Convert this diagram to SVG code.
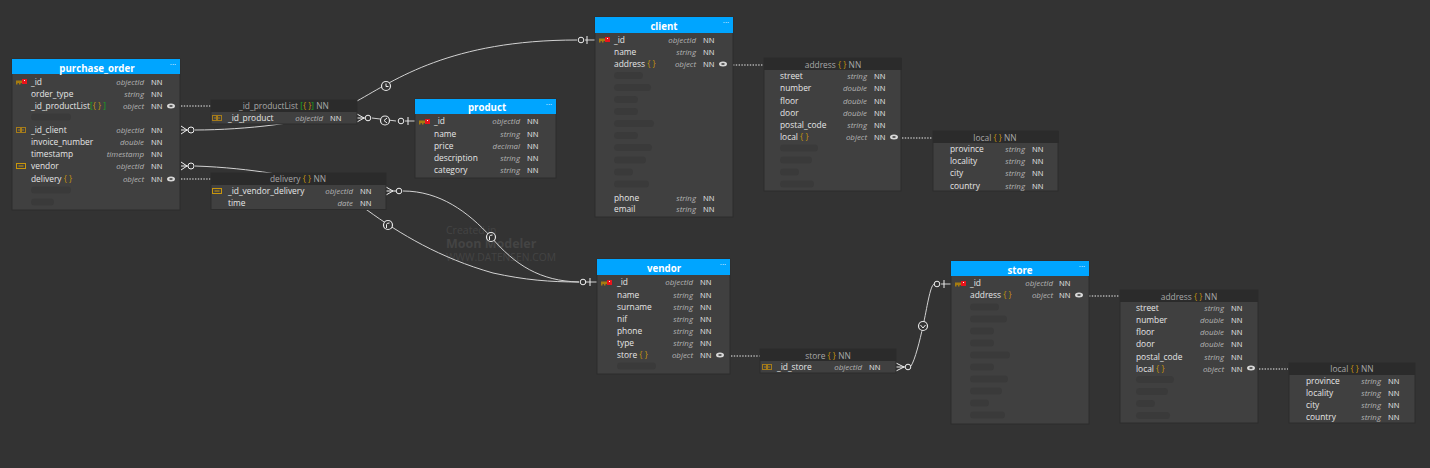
<svg xmlns="http://www.w3.org/2000/svg" width="1430" height="468" viewBox="0 0 1430 468">
<style>
text{font-family:"Open Sans","Noto Sans","DejaVu Sans",sans-serif;font-size:8.400px;fill:#e6e6e6}
.body{fill:#404040;stroke:#2c2c2c;stroke-width:1}
.head{fill:#00a5ff}
.sub{fill:#2b2b2b}
text.title{font-size:9.700px;font-weight:700;fill:#fff;text-anchor:middle}
.stitle{fill:#a8a8a8;text-anchor:middle}
text.t{font-size:7.900px;font-style:italic;fill:#b4b4b4;text-anchor:end}
text.n{font-size:7.600px}
.o{fill:#c8960c}
.g{fill:#17a81d}
text.dots{fill:#fff;font-size:8px;text-anchor:middle}
.ph{fill:#3a3a3a}
.wire{fill:none;stroke:#d2d2d2;stroke-width:1}
.end{fill:none;stroke:#f0f0f0;stroke-width:1}
.dot{fill:none;stroke:#f0f0f0;stroke-width:1.2;stroke-dasharray:1.4 1.4}
.mark{fill:#333;stroke:#e6e6e6;stroke-width:1.200}
text.wm{fill:#444}
</style>
<defs>
<g id="key"><rect x="0" y="-1.5" width="6" height="2.6" fill="#a67c10"/><rect x="0" y="1" width="1.500" height="1.500" fill="#a67c10"/><rect x="3" y="1" width="1.500" height="1.500" fill="#a67c10"/><rect x="6" y="-3" width="5" height="5" fill="#e8141c"/><rect x="8" y="-2" width="1" height="1" fill="#fff"/></g>
<g id="link"><rect x="0.500" y="-2.500" width="4" height="5" fill="none" stroke="#a67c1a" stroke-width="1"/><rect x="5.500" y="-2.500" width="4" height="5" fill="none" stroke="#a67c1a" stroke-width="1"/><path d="M2,0H8" stroke="#a67c1a" stroke-width="1"/></g>
<g id="fk"><rect x="0.500" y="-2.500" width="9" height="5" fill="none" stroke="#c8960c" stroke-width="1"/><path d="M2.500,0H7.500" stroke="#c8960c" stroke-width="1"/></g>
<g id="eye"><ellipse cx="0" cy="0" rx="4" ry="2.500" fill="#d8d8d8"/><ellipse cx="0" cy="0" rx="1.800" ry="1.100" fill="#555"/></g>
</defs>
<rect width="1430" height="468" fill="#333"/>
<g id="watermark">
<text class="wm" x="446" y="234" style="font-size:10.5px">Created in</text>
<text class="wm" x="446" y="248" style="font-size:12.5px;font-weight:700">Moon Modeler</text>
<text class="wm" x="446" y="261" style="font-size:10.3px">WWW.DATENSEN.COM</text>
</g>
<g id="connectors">
<path class="wire" d="M195,130C220,130 250,128 273,125C305,121 330,114 357,101C395,80 450,40 577,40"/>
<path class="wire" d="M372,118L396,121"/>
<path class="wire" d="M195,166C225,167 250,170 270,173C310,180 340,190 367,210C400,234 440,258 493,273C525,280 550,282 579,282"/>
<path class="wire" d="M403,191C440,191 468,212 491,237C515,265 540,281 579,282"/>
<path class="wire" d="M911,366C915,360 920,340 923,326C927,308 930,286 934,284"/>
<path class="wire" d="M585,282H597M405,121H415M585,40H595M941,284H951"/>
<g class="end">
<path d="M181,126L187,130L181,134M181,130H188M181,162L187,166L181,170M181,166H188"/><circle cx="191" cy="130" r="3"/><circle cx="191" cy="166" r="3"/>
<path d="M357,114L364,118L357,122M357,118H365"/><circle cx="368" cy="118" r="2.800"/>
<circle cx="401" cy="121" r="2.800"/><path d="M408,117V125"/>
<circle cx="581" cy="40" r="2.800"/><path d="M587,36V44"/>
<path d="M386,187L393,191L386,195M386,191H396"/><circle cx="399" cy="191" r="2.800"/>
<circle cx="583" cy="282" r="2.800"/><path d="M590,278V286"/>
<path d="M896,363L904,367L896,371M896,367H905"/><circle cx="908" cy="367" r="2.800"/>
<circle cx="937" cy="284" r="2.800"/><path d="M944,280V288"/>
</g>
<g>
<circle class="mark" cx="386" cy="86" r="4.500"/><path class="end" d="M386,83.500V86.500H388.500"/>
<circle class="mark" cx="385" cy="120.500" r="4.500"/><path class="end" d="M387,118L384,120.500L387,123"/>
<circle class="mark" cx="388" cy="225" r="4.500"/><path class="end" d="M386.500,228V224.500Q386.500,223 389.500,223"/>
<circle class="mark" cx="491" cy="237" r="4.500"/><path class="end" d="M489.500,240V236.500Q489.500,235 492.500,235"/>
<circle class="mark" cx="923" cy="326" r="4.500"/><path class="end" d="M920.500,325L923,328L925.500,325"/>
</g>
<path class="dot" d="M181,106H211M181,179H211M733,65H763M902,138H932M731,356H760M1089,296H1119M1259,369H1288"/>
</g>
<g id="purchase_order">
<rect class="body" x="12" y="59" width="168" height="151"/><rect class="head" x="12" y="59" width="168" height="15"/>
<text class="title" x="97" y="72">purchase_order</text><text class="dots" x="173" y="67">···</text>
<use href="#key" x="16" y="82"/>
<text x="31" y="85">_id</text><text class="t" x="144" y="85">objectId</text><text class="n" x="151" y="85">NN</text>
<text x="31" y="97">order_type</text><text class="t" x="144" y="97">string</text><text class="n" x="151" y="97">NN</text>
<text x="31" y="109">_id_productList<tspan class="g">[</tspan><tspan class="o">{ }</tspan><tspan class="g"> ]</tspan></text><text class="t" x="144" y="109">object</text><text class="n" x="151" y="109">NN</text><use href="#eye" x="171" y="106"/>
<rect class="ph" x="31" y="113.500" width="40" height="7" rx="3.500"/>
<use href="#link" x="16" y="130"/>
<text x="31" y="133">_id_client</text><text class="t" x="144" y="133">objectId</text><text class="n" x="151" y="133">NN</text>
<text x="31" y="145">invoice_number</text><text class="t" x="144" y="145">double</text><text class="n" x="151" y="145">NN</text>
<text x="31" y="157">timestamp</text><text class="t" x="144" y="157">timestamp</text><text class="n" x="151" y="157">NN</text>
<use href="#fk" x="16" y="166"/>
<text x="31" y="169">vendor</text><text class="t" x="144" y="169">objectId</text><text class="n" x="151" y="169">NN</text>
<text x="31" y="182">delivery <tspan class="o">{ }</tspan></text><text class="t" x="144" y="182">object</text><text class="n" x="151" y="182">NN</text><use href="#eye" x="171" y="179"/>
<rect class="ph" x="31" y="186.500" width="40" height="7" rx="3.500"/><rect class="ph" x="31" y="198.500" width="23" height="7" rx="3.500"/>
</g>
<g id="productList">
<rect class="body" x="211" y="100" width="146" height="24" stroke="none"/><rect class="sub" x="211" y="100" width="146" height="12"/>
<text class="stitle" x="284" y="109">_id_productList <tspan class="g">[</tspan><tspan class="o">{ }</tspan><tspan class="g">]</tspan> NN</text>
<use href="#link" x="212" y="118"/>
<text x="228" y="121">_id_product</text><text class="t" x="323" y="121">objectId</text><text class="n" x="330" y="121">NN</text>
</g>
<g id="delivery">
<rect class="body" x="211" y="173" width="175" height="36.500"/><rect class="sub" x="211" y="173" width="175" height="12"/>
<text class="stitle" x="298" y="182">delivery <tspan class="o">{ }</tspan> NN</text>
<use href="#fk" x="212" y="191"/>
<text x="228" y="194">_id_vendor_delivery</text><text class="t" x="353" y="194">objectId</text><text class="n" x="360" y="194">NN</text>
<text x="228" y="206">time</text><text class="t" x="353" y="206">date</text><text class="n" x="360" y="206">NN</text>
</g>
<g id="product">
<rect class="body" x="415" y="99" width="141" height="79"/><rect class="head" x="415" y="99" width="141" height="15"/>
<text class="title" x="487" y="111">product</text><text class="dots" x="549" y="107">···</text>
<use href="#key" x="419" y="122"/>
<text x="434" y="124">_id</text><text class="t" x="520" y="124">objectId</text><text class="n" x="527" y="124">NN</text>
<text x="434" y="137">name</text><text class="t" x="520" y="137">string</text><text class="n" x="527" y="137">NN</text>
<text x="434" y="149">price</text><text class="t" x="520" y="149">decimal</text><text class="n" x="527" y="149">NN</text>
<text x="434" y="161">description</text><text class="t" x="520" y="161">string</text><text class="n" x="527" y="161">NN</text>
<text x="434" y="173">category</text><text class="t" x="520" y="173">string</text><text class="n" x="527" y="173">NN</text>
</g>
<g id="client">
<rect class="body" x="595" y="17" width="138" height="200"/><rect class="head" x="595" y="17" width="138" height="16"/>
<text class="title" x="664" y="30">client</text><text class="dots" x="726" y="25">···</text>
<use href="#key" x="599" y="40"/>
<text x="614" y="43">_id</text><text class="t" x="696" y="43">objectId</text><text class="n" x="703" y="43">NN</text>
<text x="614" y="55">name</text><text class="t" x="696" y="55">string</text><text class="n" x="703" y="55">NN</text>
<text x="614" y="67">address <tspan class="o">{ }</tspan></text><text class="t" x="696" y="67">object</text><text class="n" x="703" y="67">NN</text><use href="#eye" x="723" y="64"/>
<rect class="ph" x="614" y="72" width="29" height="7" rx="3.500"/><rect class="ph" x="614" y="84" width="37" height="7" rx="3.500"/><rect class="ph" x="614" y="96" width="24" height="7" rx="3.500"/><rect class="ph" x="614" y="108" width="24" height="7" rx="3.500"/><rect class="ph" x="614" y="120" width="40" height="7" rx="3.500"/><rect class="ph" x="614" y="132" width="24" height="7" rx="3.500"/><rect class="ph" x="614" y="144" width="38" height="7" rx="3.500"/><rect class="ph" x="614" y="156.500" width="32" height="7" rx="3.500"/><rect class="ph" x="614" y="168.500" width="19" height="7" rx="3.500"/><rect class="ph" x="614" y="180.500" width="35" height="7" rx="3.500"/>
<text x="614" y="201">phone</text><text class="t" x="696" y="201">string</text><text class="n" x="703" y="201">NN</text>
<text x="614" y="212">email</text><text class="t" x="696" y="212">string</text><text class="n" x="703" y="212">NN</text>
</g>
<g id="address_client">
<rect class="body" x="764" y="58" width="137" height="133" stroke="none"/><rect class="sub" x="764" y="58" width="138" height="12"/>
<text class="stitle" x="833" y="68">address <tspan class="o">{ }</tspan> NN</text>
<text x="780" y="79">street</text><text class="t" x="867" y="79">string</text><text class="n" x="874" y="79">NN</text>
<text x="780" y="91">number</text><text class="t" x="867" y="91">double</text><text class="n" x="874" y="91">NN</text>
<text x="780" y="104">floor</text><text class="t" x="867" y="104">double</text><text class="n" x="874" y="104">NN</text>
<text x="780" y="116">door</text><text class="t" x="867" y="116">double</text><text class="n" x="874" y="116">NN</text>
<text x="780" y="128">postal_code</text><text class="t" x="867" y="128">string</text><text class="n" x="874" y="128">NN</text>
<text x="780" y="140">local <tspan class="o">{ }</tspan></text><text class="t" x="867" y="140">object</text><text class="n" x="874" y="140">NN</text><use href="#eye" x="894" y="137"/>
<rect class="ph" x="780" y="144.500" width="38" height="7" rx="3.500"/><rect class="ph" x="780" y="156.500" width="32" height="7" rx="3.500"/><rect class="ph" x="780" y="168.500" width="19" height="7" rx="3.500"/><rect class="ph" x="780" y="180.500" width="34" height="7" rx="3.500"/>
</g>
<g id="local_client">
<rect class="body" x="933" y="131" width="125" height="60" stroke="none"/><rect class="sub" x="933" y="131" width="126" height="12"/>
<text class="stitle" x="995" y="141">local <tspan class="o">{ }</tspan> NN</text>
<text x="950" y="152">province</text><text class="t" x="1025" y="152">string</text><text class="n" x="1032" y="152">NN</text>
<text x="950" y="164">locality</text><text class="t" x="1025" y="164">string</text><text class="n" x="1032" y="164">NN</text>
<text x="950" y="176">city</text><text class="t" x="1025" y="176">string</text><text class="n" x="1032" y="176">NN</text>
<text x="950" y="189">country</text><text class="t" x="1025" y="189">string</text><text class="n" x="1032" y="189">NN</text>
</g>
<g id="vendor">
<rect class="body" x="597" y="259" width="133" height="115"/><rect class="head" x="597" y="259" width="133" height="16"/>
<text class="title" x="664" y="272">vendor</text><text class="dots" x="723" y="267">···</text>
<use href="#key" x="601" y="283"/>
<text x="617" y="285">_id</text><text class="t" x="693" y="285">objectId</text><text class="n" x="700" y="285">NN</text>
<text x="617" y="298">name</text><text class="t" x="693" y="298">string</text><text class="n" x="700" y="298">NN</text>
<text x="617" y="310">surname</text><text class="t" x="693" y="310">string</text><text class="n" x="700" y="310">NN</text>
<text x="617" y="322">nif</text><text class="t" x="693" y="322">string</text><text class="n" x="700" y="322">NN</text>
<text x="617" y="334">phone</text><text class="t" x="693" y="334">string</text><text class="n" x="700" y="334">NN</text>
<text x="617" y="346">type</text><text class="t" x="693" y="346">string</text><text class="n" x="700" y="346">NN</text>
<text x="617" y="358">store <tspan class="o">{ }</tspan></text><text class="t" x="693" y="358">object</text><text class="n" x="700" y="358">NN</text><use href="#eye" x="720" y="355"/>
<rect class="ph" x="617" y="362.500" width="39" height="7" rx="3.500"/>
</g>
<g id="store_sub">
<rect class="body" x="760" y="349" width="136" height="24" stroke="none"/><rect class="sub" x="760" y="349" width="136" height="12"/>
<text class="stitle" x="828" y="359">store <tspan class="o">{ }</tspan> NN</text>
<use href="#link" x="762" y="367"/>
<text x="777" y="370">_id_store</text><text class="t" x="862" y="370">objectId</text><text class="n" x="869" y="370">NN</text>
</g>
<g id="store">
<rect class="body" x="951" y="261" width="138" height="163"/><rect class="head" x="951" y="261" width="138" height="15"/>
<text class="title" x="1020" y="274">store</text><text class="dots" x="1082" y="269">···</text>
<use href="#key" x="955" y="284"/>
<text x="970" y="286">_id</text><text class="t" x="1053" y="286">objectId</text><text class="n" x="1059" y="286">NN</text>
<text x="970" y="298">address <tspan class="o">{ }</tspan></text><text class="t" x="1053" y="298">object</text><text class="n" x="1059" y="298">NN</text><use href="#eye" x="1079" y="295"/>
<rect class="ph" x="970" y="303.500" width="29" height="7" rx="3.500"/><rect class="ph" x="970" y="315.500" width="37" height="7" rx="3.500"/><rect class="ph" x="970" y="327.500" width="24" height="7" rx="3.500"/><rect class="ph" x="970" y="339.500" width="24" height="7" rx="3.500"/><rect class="ph" x="970" y="351.500" width="40" height="7" rx="3.500"/><rect class="ph" x="970" y="363.500" width="24" height="7" rx="3.500"/><rect class="ph" x="970" y="375.500" width="38" height="7" rx="3.500"/><rect class="ph" x="970" y="387.500" width="32" height="7" rx="3.500"/><rect class="ph" x="970" y="399.500" width="19" height="7" rx="3.500"/><rect class="ph" x="970" y="411.500" width="35" height="7" rx="3.500"/>
</g>
<g id="address_store">
<rect class="body" x="1120" y="290" width="138" height="133" stroke="none"/><rect class="sub" x="1120" y="290" width="138" height="12"/>
<text class="stitle" x="1189" y="300">address <tspan class="o">{ }</tspan> NN</text>
<text x="1136" y="311">street</text><text class="t" x="1224" y="311">string</text><text class="n" x="1231" y="311">NN</text>
<text x="1136" y="323">number</text><text class="t" x="1224" y="323">double</text><text class="n" x="1231" y="323">NN</text>
<text x="1136" y="335">floor</text><text class="t" x="1224" y="335">double</text><text class="n" x="1231" y="335">NN</text>
<text x="1136" y="347">door</text><text class="t" x="1224" y="347">double</text><text class="n" x="1231" y="347">NN</text>
<text x="1136" y="360">postal_code</text><text class="t" x="1224" y="360">string</text><text class="n" x="1231" y="360">NN</text>
<text x="1136" y="372">local <tspan class="o">{ }</tspan></text><text class="t" x="1224" y="372">object</text><text class="n" x="1231" y="372">NN</text><use href="#eye" x="1251" y="368"/>
<rect class="ph" x="1136" y="376" width="38" height="7" rx="3.500"/><rect class="ph" x="1136" y="388" width="32" height="7" rx="3.500"/><rect class="ph" x="1136" y="400" width="19" height="7" rx="3.500"/><rect class="ph" x="1136" y="412" width="34" height="7" rx="3.500"/>
</g>
<g id="local_store">
<rect class="body" x="1289" y="363" width="126" height="60" stroke="none"/><rect class="sub" x="1289" y="363" width="126" height="12"/>
<text class="stitle" x="1352" y="372">local <tspan class="o">{ }</tspan> NN</text>
<text x="1306" y="384">province</text><text class="t" x="1381" y="384">string</text><text class="n" x="1388" y="384">NN</text>
<text x="1306" y="396">locality</text><text class="t" x="1381" y="396">string</text><text class="n" x="1388" y="396">NN</text>
<text x="1306" y="408">city</text><text class="t" x="1381" y="408">string</text><text class="n" x="1388" y="408">NN</text>
<text x="1306" y="420">country</text><text class="t" x="1381" y="420">string</text><text class="n" x="1388" y="420">NN</text>
</g>
</svg>
